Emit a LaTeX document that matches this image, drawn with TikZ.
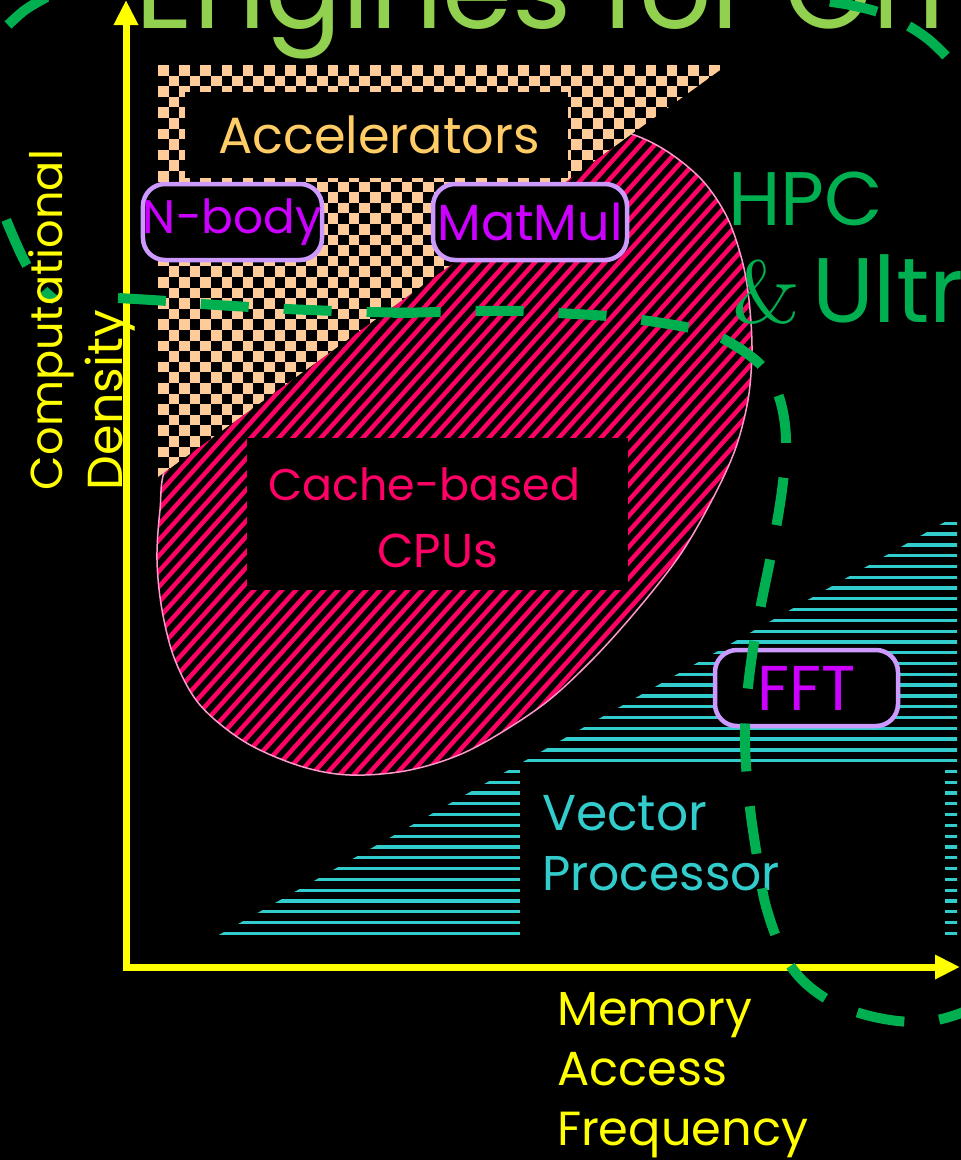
\documentclass[tikz,border=0pt]{standalone}
\usepackage{fontspec}
\usepackage{graphicx}
\usetikzlibrary{arrows.meta}
\newfontfamily\cs{Poppins}
\definecolor{titlegreen}{HTML}{92D050}
\definecolor{hpcgreen}{HTML}{00B050}
\definecolor{axisyellow}{HTML}{FFFF00}
\definecolor{accorange}{HTML}{FFCC66}
\definecolor{peach}{HTML}{FFCC99}
\definecolor{lav}{HTML}{CC99FF}
\definecolor{purp}{HTML}{CC00FF}
\definecolor{cachepink}{HTML}{FF0066}
\definecolor{edgepink}{HTML}{FF99CC}
\definecolor{vecteal}{HTML}{33CCCC}
\newcommand\fitw[2]{\resizebox{#1pt}{!}{#2}}
\tikzset{
  lbl/.style={inner sep=0pt, outer sep=0pt, anchor=base west, font=\cs},
  blackbox/.style={fill=black, inner sep=0pt, outer sep=0pt},
  kernel/.style={draw=lav, line width=4.5pt, fill=black, rounded corners=22pt,
     inner sep=0pt, minimum height=76pt, font=\cs, text=purp},
  hpcdash/.style={draw=hpcgreen, line width=10pt, dash pattern=on 48pt off 35pt},
  axisline/.style={draw=axisyellow, line width=7pt, line join=miter},
}
\def\cpupath{plot[smooth cycle, tension=0.55] coordinates {(168,460) (160,510) (157,560) (162,610) (175,660) (200,705) (245,742) (300,766) (350,775) (410,770) (470,750) (540,707) (590,662) (637,610) (680,555) (712,500) (735,450) (748,400) (752,350) (749,300) (742,260) (727,217) (702,180) (665,150) (625,132) (570,124) (500,138) (400,190) (300,270) (220,360)}}
\begin{document}
\begin{tikzpicture}[x=1pt,y=-1pt]
\useasboundingbox (0,0) rectangle (961,1160);
\fill[black] (0,0) rectangle (961,1160);

% cache-based CPUs region
\begin{scope}
  \clip \cpupath;
  \foreach \k in {0,...,95}
    \draw[cachepink, line width=4.5pt] ({-540+14*\k},850) -- ++(675,-750);
\end{scope}
\draw[edgepink, line width=1.5pt] \cpupath;

% accelerators checkerboard
\begin{scope}
  \clip (158,65) -- (727,65) -- (158,477) -- cycle;
  \fill[black] (158,65) rectangle (727,477);
  \foreach \j in {0,...,38}{
    \pgfmathtruncatemacro\off{mod(\j,2)}
    \foreach \i in {0,2,...,52}{
      \fill[peach] ({158+(\i+\off)*10.6},{65+\j*10.6}) rectangle ++(10.6,10.6);
    }
  }
\end{scope}

% vector processor stripes
\begin{scope}
  \clip (217,936) -- (957,515) -- (957,936) -- cycle;
  \foreach \k in {0,...,38}
    \draw[vecteal, line width=3.3pt] (200,{933.3-\k*10.79}) -- (960,{933.3-\k*10.79});
\end{scope}

% black label boxes
\node[blackbox, minimum width=383pt, minimum height=86pt] (accbox) at (376.5,135) {};
\node[blackbox, minimum width=381pt, minimum height=152pt] (cachebox) at (437.5,514) {};
\node[blackbox, minimum width=425pt, minimum height=167pt] (vecbox) at (732.5,852.5) {};

\node[lbl, text=accorange] (acc) at (218,153) {\fitw{322}{Accelerators}};
\node[lbl, text=cachepink] (cache1) at (268,500) {\fitw{312}{Cache-based}};
\node[lbl, text=cachepink] (cache2) at (377,567) {\fitw{121}{CPUs}};
\node[lbl, text=vecteal] (vec1) at (542,830) {\fitw{165}{Vector}};
\node[lbl, text=vecteal] (vec2) at (542,890) {\fitw{238}{Processor}};

% title
\node[lbl, text=titlegreen] (title) at (135,28) {\fitw{810}{Engines for Gn}};

% axes
\coordinate (ytip) at (126,0);
\coordinate (orig) at (126,967);
\coordinate (xtip) at (960,967);
\draw[axisline, {Triangle[length=25pt,width=23pt]}-{Triangle[length=25pt,width=23pt]}] (ytip) -- (orig) -- (xtip);

% kernels
\node[kernel, minimum width=177pt] (nbody) at (232.5,222) {\fitw{179}{N-body}};
\node[kernel, minimum width=194pt] (matmul) at (530,222) {\fitw{185}{MatMul}};
\node[kernel, minimum width=183pt] (fft) at (806.5,688) {\fitw{98}{FFT}};

% HPC dashed boundary
\draw[hpcdash] plot[smooth, tension=0.6] coordinates {(722,338) (745,352) (765,370) (780,400) (786,440) (782,490) (772,550) (760,610) (750,670) (745,730) (748,790) (756,850) (767,910) (790,965) (825,998) (870,1016) (920,1022) (961,1013) (990,995)};
\draw[hpcdash, dash phase=48pt] plot[smooth, tension=0.6] coordinates {(722,338) (690,328) (642,320) (607,316) (558,313) (522,311) (475,311) (440,312) (392,313)};
\draw[hpcdash] plot[smooth, tension=0.6] coordinates {(118,298) (167,301) (202,304) (250,307) (287,309) (335,311) (370,312) (418,313)};
\draw[hpcdash, dash pattern=on 15pt off 30pt on 50pt off 300pt] plot[smooth, tension=0.6] coordinates {(55,300) (42,288) (25,262) (7,222) (-5,190)};
\draw[hpcdash] plot[smooth, tension=0.6] coordinates {(8,25) (25,10) (45,-2) (60,-10)};
\draw[hpcdash] plot[smooth, tension=0.6] coordinates {(946,56) (928,39) (905,24) (878,12) (850,5) (827,1) (800,-6)};

% HPC label
\node[lbl, text=hpcgreen] (hpc) at (728,225) {\fitw{155}{HPC}};
\node[lbl, text=hpcgreen, font=\rmfamily] (amp) at (732,322) {\fitw{68}{\&}};
\node[lbl, text=hpcgreen] (ultr) at (812,322) {\fitw{152}{Ultr}};

% axis labels
\node[lbl, text=axisyellow, rotate=90] (comp) at (62,490) {\fitw{340}{Computational}};
\node[lbl, text=axisyellow, rotate=90] (dens) at (122,490) {\fitw{180}{Density}};
\node[lbl, text=axisyellow] (mem1) at (557,1025) {\fitw{195}{Memory}};
\node[lbl, text=axisyellow] (mem2) at (557,1085) {\fitw{170}{Access}};
\node[lbl, text=axisyellow] (mem3) at (557,1145) {\fitw{251}{Frequency}};
\end{tikzpicture}
\end{document}
